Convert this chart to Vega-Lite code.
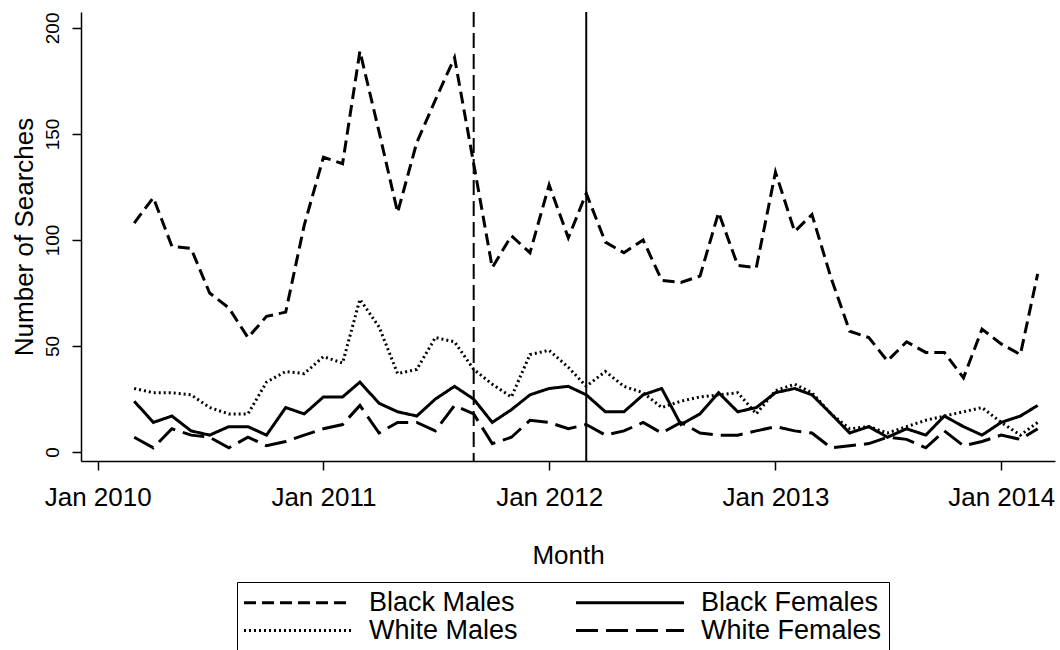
{
  "$schema": "https://vega.github.io/schema/vega-lite/v6.json",
  "width": 974,
  "height": 449,
  "autosize": "none",
  "padding": {"left": 81, "top": 12, "right": 5, "bottom": 189},
  "background": "white",
  "config": {"view": {"stroke": null}, "font": "Liberation Sans"},
  "layer": [
    {
      "data": {"values": [
        {"month": "2010-03-01", "Black Males": 108, "Black Females": 24, "White Males": 30, "White Females": 7},
        {"month": "2010-04-01", "Black Males": 120, "Black Females": 14, "White Males": 28, "White Females": 2},
        {"month": "2010-05-01", "Black Males": 97, "Black Females": 17, "White Males": 28, "White Females": 11},
        {"month": "2010-06-01", "Black Males": 96, "Black Females": 10, "White Males": 27, "White Females": 8},
        {"month": "2010-07-01", "Black Males": 75, "Black Females": 8, "White Males": 21, "White Females": 7},
        {"month": "2010-08-01", "Black Males": 68, "Black Females": 12, "White Males": 18, "White Females": 2},
        {"month": "2010-09-01", "Black Males": 54, "Black Females": 12, "White Males": 18, "White Females": 7},
        {"month": "2010-10-01", "Black Males": 64, "Black Females": 8, "White Males": 33, "White Females": 3},
        {"month": "2010-11-01", "Black Males": 66, "Black Females": 21, "White Males": 38, "White Females": 5},
        {"month": "2010-12-01", "Black Males": 107, "Black Females": 18, "White Males": 37, "White Females": 8},
        {"month": "2011-01-01", "Black Males": 139, "Black Females": 26, "White Males": 45, "White Females": 11},
        {"month": "2011-02-01", "Black Males": 136, "Black Females": 26, "White Males": 42, "White Females": 13},
        {"month": "2011-03-01", "Black Males": 189, "Black Females": 33, "White Males": 72, "White Females": 22},
        {"month": "2011-04-01", "Black Males": 151, "Black Females": 23, "White Males": 59, "White Females": 9},
        {"month": "2011-05-01", "Black Males": 113, "Black Females": 19, "White Males": 37, "White Females": 14},
        {"month": "2011-06-01", "Black Males": 146, "Black Females": 17, "White Males": 39, "White Females": 14},
        {"month": "2011-07-01", "Black Males": 166, "Black Females": 25, "White Males": 54, "White Females": 10},
        {"month": "2011-08-01", "Black Males": 186, "Black Females": 31, "White Males": 52, "White Females": 22},
        {"month": "2011-09-01", "Black Males": 136, "Black Females": 25, "White Males": 39, "White Females": 18},
        {"month": "2011-10-01", "Black Males": 87, "Black Females": 14, "White Males": 32, "White Females": 4},
        {"month": "2011-11-01", "Black Males": 102, "Black Females": 20, "White Males": 26, "White Females": 7},
        {"month": "2011-12-01", "Black Males": 94, "Black Females": 27, "White Males": 46, "White Females": 15},
        {"month": "2012-01-01", "Black Males": 126, "Black Females": 30, "White Males": 48, "White Females": 14},
        {"month": "2012-02-01", "Black Males": 101, "Black Females": 31, "White Males": 40, "White Females": 11},
        {"month": "2012-03-01", "Black Males": 122, "Black Females": 27, "White Males": 31, "White Females": 13},
        {"month": "2012-04-01", "Black Males": 99, "Black Females": 19, "White Males": 38, "White Females": 8},
        {"month": "2012-05-01", "Black Males": 94, "Black Females": 19, "White Males": 31, "White Females": 10},
        {"month": "2012-06-01", "Black Males": 100, "Black Females": 27, "White Males": 28, "White Females": 14},
        {"month": "2012-07-01", "Black Males": 81, "Black Females": 30, "White Males": 21, "White Females": 9},
        {"month": "2012-08-01", "Black Males": 80, "Black Females": 13, "White Males": 24, "White Females": 14},
        {"month": "2012-09-01", "Black Males": 83, "Black Females": 18, "White Males": 26, "White Females": 9},
        {"month": "2012-10-01", "Black Males": 113, "Black Females": 28, "White Males": 27, "White Females": 8},
        {"month": "2012-11-01", "Black Males": 88, "Black Females": 19, "White Males": 28, "White Females": 8},
        {"month": "2012-12-01", "Black Males": 87, "Black Females": 21, "White Males": 18, "White Females": 10},
        {"month": "2013-01-01", "Black Males": 132, "Black Females": 28, "White Males": 29, "White Females": 12},
        {"month": "2013-02-01", "Black Males": 104, "Black Females": 30, "White Males": 32, "White Females": 10},
        {"month": "2013-03-01", "Black Males": 112, "Black Females": 27, "White Males": 28, "White Females": 9},
        {"month": "2013-04-01", "Black Males": 82, "Black Females": 18, "White Males": 18, "White Females": 2},
        {"month": "2013-05-01", "Black Males": 57, "Black Females": 9, "White Males": 11, "White Females": 3},
        {"month": "2013-06-01", "Black Males": 54, "Black Females": 12, "White Males": 12, "White Females": 4},
        {"month": "2013-07-01", "Black Males": 43, "Black Females": 7, "White Males": 9, "White Females": 7},
        {"month": "2013-08-01", "Black Males": 52, "Black Females": 11, "White Males": 12, "White Females": 6},
        {"month": "2013-09-01", "Black Males": 47, "Black Females": 8, "White Males": 15, "White Females": 2},
        {"month": "2013-10-01", "Black Males": 47, "Black Females": 17, "White Males": 17, "White Females": 10},
        {"month": "2013-11-01", "Black Males": 35, "Black Females": 12, "White Males": 19, "White Females": 3},
        {"month": "2013-12-01", "Black Males": 58, "Black Females": 8, "White Males": 21, "White Females": 5},
        {"month": "2014-01-01", "Black Males": 51, "Black Females": 14, "White Males": 14, "White Females": 8},
        {"month": "2014-02-01", "Black Males": 46, "Black Females": 17, "White Males": 8, "White Females": 6},
        {"month": "2014-03-01", "Black Males": 84, "Black Females": 22, "White Males": 14, "White Females": 11}
      ]},
      "transform": [{"fold": ["Black Males", "Black Females", "White Males", "White Females"], "as": ["series", "searches"]}],
      "mark": {"type": "line", "strokeWidth": 3, "color": "black", "strokeCap": "butt", "strokeJoin": "miter"},
      "encoding": {
        "x": {
          "field": "month", "type": "temporal", "title": "Month",
          "scale": {"type": "utc", "domain": [{"year": 2009, "month": 12, "date": 5, "utc": true}, {"year": 2014, "month": 3, "date": 29, "utc": true}]},
          "axis": {
            "values": [
              {"year": 2010, "month": 1, "date": 1, "utc": true},
              {"year": 2011, "month": 1, "date": 1, "utc": true},
              {"year": 2012, "month": 1, "date": 1, "utc": true},
              {"year": 2013, "month": 1, "date": 1, "utc": true},
              {"year": 2014, "month": 1, "date": 1, "utc": true}
            ],
            "format": "%b %Y", "grid": false, "labelFlush": false, "labelOverlap": false,
            "labelFont": "Liberation Sans", "labelFontSize": 26, "labelColor": "black", "labelPadding": 14,
            "tickSize": 9, "tickColor": "black", "tickWidth": 1.5,
            "domainColor": "black", "domainWidth": 1.5,
            "titleFont": "Liberation Sans", "titleFontSize": 26, "titleFontWeight": "normal", "titleColor": "black", "titlePadding": 32
          }
        },
        "y": {
          "field": "searches", "type": "quantitative", "title": "Number of Searches",
          "scale": {"domain": [-4.2, 207.5], "zero": false, "nice": false},
          "axis": {
            "values": [0, 50, 100, 150, 200], "grid": false,
            "labelAngle": -90, "labelAlign": "center", "labelBaseline": "alphabetic",
            "labelFont": "Liberation Sans", "labelFontSize": 19, "labelColor": "black", "labelPadding": 14,
            "tickSize": 9, "tickColor": "black", "tickWidth": 1.5,
            "domainColor": "black", "domainWidth": 1.5,
            "titleFont": "Liberation Sans", "titleFontSize": 26, "titleFontWeight": "normal", "titleColor": "black", "titlePadding": 6
          }
        },
        "strokeDash": {
          "field": "series", "type": "nominal",
          "scale": {"domain": ["Black Males", "White Males", "Black Females", "White Females"], "range": [[12, 6], [2, 3], [1, 0], [22, 8]]},
          "legend": {
            "title": null, "orient": "none", "legendX": 156, "legendY": 570, "columns": 2,
            "symbolType": "M-1.5,0H10.5", "symbolSize": 324, "symbolStrokeWidth": 3,
            "symbolStrokeColor": "black", "symbolFillColor": "transparent",
            "labelFont": "Liberation Sans", "labelFontSize": 27, "labelColor": "black", "labelOffset": 98, "labelLimit": 400,
            "strokeColor": "black", "padding": 7, "rowPadding": 0, "columnPadding": 52
          }
        }
      }
    },
    {
      "data": {"values": [{"event": "2011-09-01"}]},
      "mark": {"type": "rule", "strokeWidth": 2, "strokeDash": [15, 6], "color": "black"},
      "encoding": {"x": {"field": "event", "type": "temporal", "title": "Month"}}
    },
    {
      "data": {"values": [{"event": "2012-03-01"}]},
      "mark": {"type": "rule", "strokeWidth": 2, "color": "black"},
      "encoding": {"x": {"field": "event", "type": "temporal", "title": "Month"}}
    }
  ]
}
